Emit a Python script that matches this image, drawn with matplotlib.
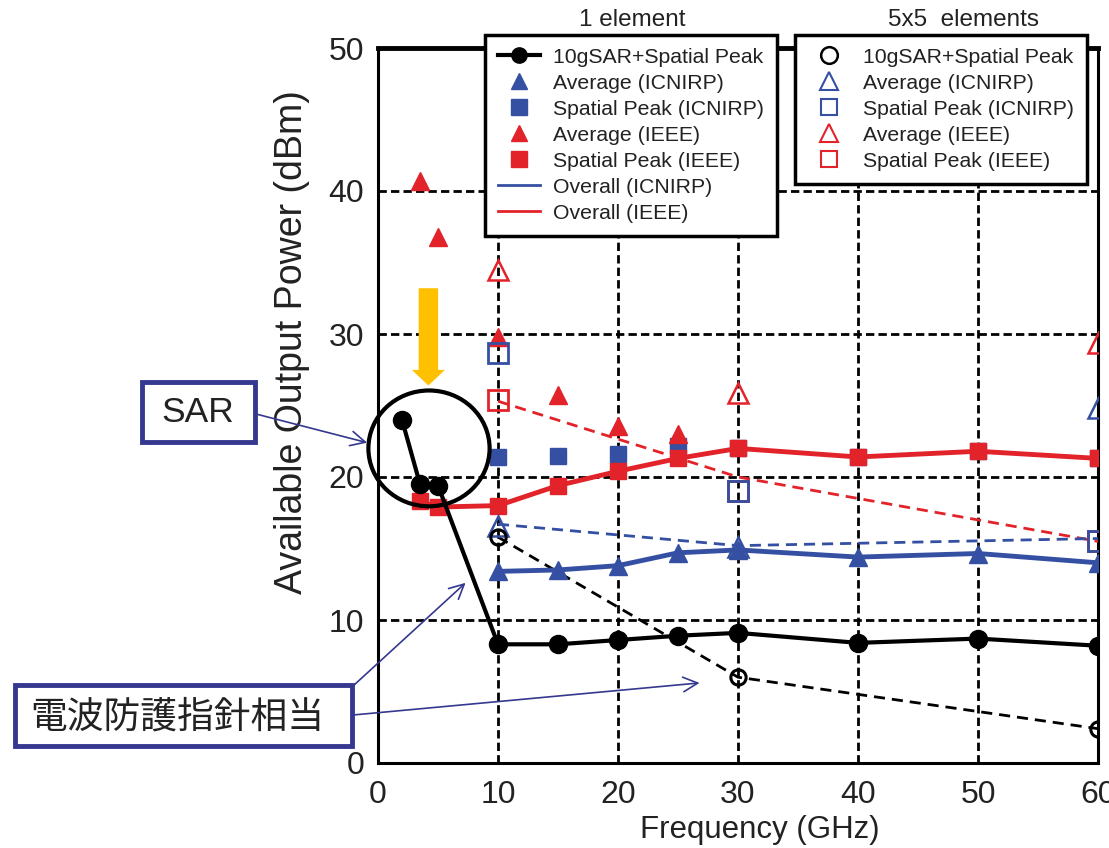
import matplotlib
matplotlib.use("Agg")
import matplotlib.pyplot as plt
from matplotlib.lines import Line2D
from matplotlib.patches import Ellipse, Rectangle

plt.rcParams["font.family"] = ["Liberation Sans", "DejaVu Sans"]

# 1 element
f_sar1 = [2, 3.5, 5, 10, 15, 20, 25, 30, 40, 50, 60]
sar1 = [24.0, 19.5, 19.4, 8.3, 8.3, 8.6, 8.9, 9.1, 8.4, 8.7, 8.2]
f_avg_ieee1 = [3.5, 5, 10, 15, 20, 25]
avg_ieee1 = [40.7, 36.8, 29.8, 25.7, 23.6, 23.0]
f_sp_ieee1 = [3.5, 5, 10, 15, 20, 25, 30, 40, 50, 60]
sp_ieee1 = [18.3, 17.9, 18.0, 19.4, 20.4, 21.3, 22.0, 21.4, 21.8, 21.3]
f_sp_icnirp1 = [10, 15, 20, 25, 30, 40, 50, 60]
sp_icnirp1 = [21.4, 21.5, 21.6, 22.2, 22.0, 21.4, 21.8, 21.3]
f_avg_icnirp1 = [10, 15, 20, 25, 30, 40, 50, 60]
avg_icnirp1 = [13.4, 13.5, 13.8, 14.7, 14.9, 14.4, 14.65, 14.0]

# 5x5 elements
f_arr = [10, 30, 60]
sar25 = [15.8, 6.0, 2.4]
avg_icnirp25 = [16.6, 15.1, 24.8]
sp_icnirp25 = [28.7, 19.0, 15.5]
avg_ieee25 = [34.5, 25.9, 29.4]
sp_ieee25 = [25.4, 19.0, 15.5]
overall_icnirp25 = [16.7, 15.2, 15.7]
overall_ieee25 = [25.3, 20.0, 15.5]

red = "#E2232A"
blue = "#3550A2"
navy = "#35388F"
txt = "#222222"
W, H = 1109, 848

fig = plt.figure(figsize=(W / 100, H / 100), dpi=100)
ax = fig.add_axes([378 / W, 1 - 763 / H, 720 / W, 715 / H])


def fig_xy(px, py):
    return px / W, 1 - py / H


ms = 12
# 5x5 dashed
ax.plot(f_arr, overall_ieee25, "--", color=red, lw=2, dashes=(4, 2.5), zorder=3)
ax.plot(f_arr, overall_icnirp25, "--", color=blue, lw=2, dashes=(4, 2.5), zorder=3)
ax.plot(f_arr, sar25, "--", color="black", lw=2, dashes=(4, 2.5), zorder=3)
# 1 element
ax.plot(f_sp_icnirp1, sp_icnirp1, "s", color=blue, ms=ms, zorder=4)
ax.plot(f_avg_ieee1, avg_ieee1, "^", color=red, ms=ms + 1, zorder=4)
ax.plot(f_sp_ieee1, sp_ieee1, "s-", color=red, ms=ms, lw=3.5, zorder=5)
ax.plot(f_avg_icnirp1, avg_icnirp1, "^-", color=blue, ms=ms + 1, lw=3.5, zorder=5)
ax.plot(f_sar1, sar1, "o-", color="black", ms=ms + 1, lw=3, zorder=6)
# 5x5 open markers
ax.plot(f_arr, sp_ieee25, "s", mfc="none", mec=red, mew=2, ms=ms + 2, zorder=7)
ax.plot(f_arr, sp_icnirp25, "s", mfc="none", mec=blue, mew=2, ms=ms + 2, zorder=7)
ax.plot(f_arr, avg_ieee25, "^", mfc="none", mec=red, mew=1.8, ms=ms + 3, zorder=7)
ax.plot(f_arr, avg_icnirp25, "^", mfc="none", mec=blue, mew=1.8, ms=ms + 3, zorder=7)
ax.plot(f_arr, sar25, "o", mfc="none", mec="black", mew=2.2, ms=ms - 1, zorder=7)

ax.set_xlim(0, 60)
ax.set_ylim(0, 50)
ax.set_xticks(range(0, 61, 10))
ax.set_yticks(range(0, 51, 10))
ax.tick_params(labelsize=23, length=0, labelcolor=txt)
ax.tick_params(axis="x", pad=12)
ax.tick_params(axis="y", pad=10)
ax.grid(True, color="black", lw=2, linestyle=(0, (3, 1.5)))
ax.set_axisbelow(True)
for s in ax.spines.values():
    s.set_linewidth(2.2)
ax.spines["top"].set_linewidth(3.5)
ax.set_xlabel("Frequency (GHz)", fontsize=22.5, color=txt)
ax.xaxis.set_label_coords((760 - 378) / 720, -(815 - 763) / 715)
ax.set_ylabel("Available Output Power (dBm)", fontsize=27, color=txt)
ax.yaxis.set_label_coords(-(378 - 310) / 720, (763 - 342) / 715)

# legends
h1 = [
    Line2D([], [], color="black", marker="o", lw=3, ms=11),
    Line2D([], [], color=blue, marker="^", lw=0, ms=12),
    Line2D([], [], color=blue, marker="s", lw=0, ms=11),
    Line2D([], [], color=red, marker="^", lw=0, ms=12),
    Line2D([], [], color=red, marker="s", lw=0, ms=11),
    Line2D([], [], color=blue, lw=2),
    Line2D([], [], color=red, lw=2),
]
l1 = ["10gSAR+Spatial Peak", "Average (ICNIRP)", "Spatial Peak (ICNIRP)",
      "Average (IEEE)", "Spatial Peak (IEEE)", "Overall (ICNIRP)", "Overall (IEEE)"]
h2 = [
    Line2D([], [], color="black", marker="o", lw=0, mfc="none", mew=1.8, ms=12),
    Line2D([], [], color=blue, marker="^", lw=0, mfc="none", mew=1.5, ms=13),
    Line2D([], [], color=blue, marker="s", lw=0, mfc="none", mew=1.5, ms=12),
    Line2D([], [], color=red, marker="^", lw=0, mfc="none", mew=1.5, ms=13),
    Line2D([], [], color=red, marker="s", lw=0, mfc="none", mew=1.5, ms=12),
]
l2 = ["10gSAR+Spatial Peak", "Average (ICNIRP)", "Spatial Peak (ICNIRP)",
      "Average (IEEE)", "Spatial Peak (IEEE)"]
legkw = dict(loc="upper left", fancybox=False, framealpha=1, edgecolor="black",
             prop={"size": 15.3}, handlelength=2.0, labelspacing=0.33,
             borderpad=0.6, handletextpad=0.6, borderaxespad=0)
leg1 = fig.legend(h1, l1, bbox_to_anchor=fig_xy(485, 35), **legkw)
leg2 = fig.legend(h2, l2, bbox_to_anchor=fig_xy(795, 35), **legkw)
for leg in (leg1, leg2):
    leg.get_frame().set_linewidth(2.5)
    leg.set_zorder(10)
    for t in leg.get_texts():
        t.set_color(txt)

fig.text(*fig_xy(632, 20), "1 element", ha="center", va="center",
         fontsize=17.5, color=txt)
fig.text(*fig_xy(964, 20), "5x5  elements", ha="center", va="center",
         fontsize=17.5, color=txt)

# circle around low-frequency SAR points
ax.add_patch(Ellipse((4.25, 22.0), 10.1, 8.1, fill=False, lw=3,
                     color="black", clip_on=False, zorder=8))
# orange arrow
ax.annotate("", xy=(4.2, 26.4), xytext=(4.2, 33.2),
            arrowprops=dict(arrowstyle="simple,head_length=0.8,head_width=1.7,tail_width=1.0",
                            color="#FFC000", mutation_scale=14, lw=0, shrinkA=0, shrinkB=0),
            annotation_clip=False, zorder=8)

# text boxes
fig.patches.append(Rectangle(fig_xy(142, 442), 113 / W, 60 / H, transform=fig.transFigure,
                             fill=True, fc="white", ec=navy, lw=3.5))
fig.text(*fig_xy(198, 413), "SAR", ha="center", va="center", fontsize=25.5, color=txt)
fig.patches.append(Rectangle(fig_xy(15, 746), 337 / W, 61 / H, transform=fig.transFigure,
                             fill=True, fc="white", ec=navy, lw=3.5))
fig.text(*fig_xy(177, 717), "電波防護指針相当", ha="center", va="center", fontsize=26.5,
         family=["Noto Sans CJK JP", "DejaVu Sans"], color=txt)

arrkw = dict(arrowstyle="->,head_length=0.7,head_width=0.35", color=navy, lw=1.2,
             shrinkA=0, shrinkB=0, mutation_scale=15)
ax.annotate("", xy=(-0.9, 22.4), xycoords="data", xytext=fig_xy(256, 414),
            textcoords="figure fraction", arrowprops=arrkw, annotation_clip=False)
ax.annotate("", xy=(7.3, 12.6), xycoords="data", xytext=fig_xy(353, 686),
            textcoords="figure fraction", arrowprops=arrkw, annotation_clip=False)
ax.annotate("", xy=(26.8, 5.6), xycoords="data", xytext=fig_xy(353, 715),
            textcoords="figure fraction", arrowprops=arrkw, annotation_clip=False)

fig.savefig("out.png", dpi=100)
